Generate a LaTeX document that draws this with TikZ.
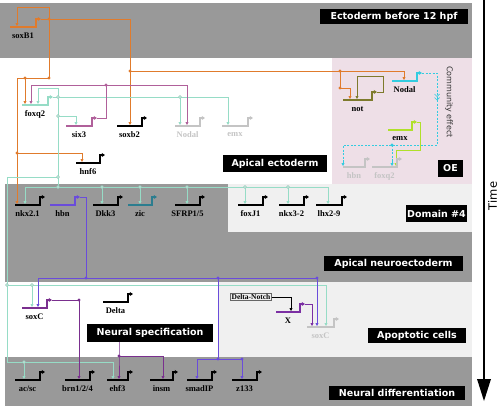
\documentclass[tikz,border=0pt]{standalone}
\usepackage{fontspec}
\setmainfont{Liberation Serif}
\newfontfamily\boxfont{DejaVu Sans}
\usetikzlibrary{arrows.meta}
\definecolor{cOr}{HTML}{E07B2C}
\definecolor{cTl}{HTML}{96DCC6}
\definecolor{cMg}{HTML}{B0609A}
\definecolor{cPu}{HTML}{6A4CDB}
\definecolor{cSx}{HTML}{7A2F8E}
\definecolor{cX}{HTML}{7B2FA3}
\definecolor{cZi}{HTML}{2B7D8F}
\definecolor{cNo}{HTML}{33CCE0}
\definecolor{cEm}{HTML}{B0E02A}
\definecolor{cNt}{HTML}{7D7A2C}
\definecolor{cFd}{HTML}{C4C4C4}
\definecolor{cDk}{HTML}{999999}
\definecolor{cLt}{HTML}{F0F0F0}
\definecolor{cPk}{HTML}{EEDFE7}
\tikzset{
  gbase/.style={line width=1.5pt,-{Triangle[length=3.2pt,width=3.8pt]}},
  glabel/.style={font=\bfseries\fontsize{8.5}{9}\selectfont,inner sep=0pt},
  conn/.style={line width=1pt,-{Triangle[length=3pt,width=3pt]}},
  wire/.style={line width=1pt},
  lbox/.style={fill=black,text=white,font=\boxfont\bfseries\fontsize{9.5}{11}\selectfont,inner sep=1pt},
}
\newcommand\gene[7]{%
  \draw[gbase,draw=#5] (#2,#4) -- (#3,#4) -- (#3,#4-8) -- (#3+5,#4-8) coordinate (#1-out);
  \node[glabel,text=#7] (#1) at ({(#2+#3)/2},#4+9) {#6};
}
\newcommand\jdot[2]{\fill[#1] #2 circle (1.7pt);}
\newcommand\tdot[1]{\draw[cTl!80!gray,fill=cTl!40,line width=0.6pt] #1 circle (1.5pt);}
\begin{document}
\begin{tikzpicture}[x=1pt,y=-1pt]
\useasboundingbox (0,0) rectangle (500,410);
% backgrounds
\fill[cDk] (0,3) rectangle (472,58);
\fill[cPk] (332,58) rectangle (472,184);
\fill[cDk] (5,184) rectangle (472,282);
\fill[cLt] (228,184) rectangle (472,232);
\fill[cLt] (219,282) rectangle (472,357);
\fill[cDk] (5,357) rectangle (472,406);
% time axis
\coordinate (t0) at (484,0);
\coordinate (t1) at (484,381);
\draw[line width=1.2pt] (t0) -- (t1);
\fill (477,379) -- (491,379) -- (484,401) -- cycle;
\node[font=\boxfont\fontsize{11.5}{12}\selectfont,rotate=90] (time) at (492.5,196) {Time};
\node[font=\boxfont\fontsize{8}{9}\selectfont,text=black!80,rotate=-90] (comm) at (449,102) {Community effect};

% ---------- orange (soxB1)
\begin{scope}[cOr]
\draw[wire] (41,19) -- (49,19);
\draw[conn] (49,19) -- (49,7) -- (17,7) -- (17,26);
\draw[conn] (49,19) -- (130,19) -- (130,125);
\draw[conn] (130,71) -- (404,71) -- (404,80);
\draw[conn] (340,71) -- (340,88) -- (350,88) -- (350,99);
\draw[conn] (49,19) -- (49,78) -- (25,78) -- (25,104);
\draw[conn] (25,78) -- (17,78) -- (17,204);
\draw[conn] (17,153) -- (82,153) -- (82,162);
\jdot{cOr}{(49,19)} \jdot{cOr}{(130,71)} \jdot{cOr}{(340,71)} \jdot{cOr}{(340,88)}
\jdot{cOr}{(49,78)} \jdot{cOr}{(25,78)} \jdot{cOr}{(17,153)}
\end{scope}

% ---------- teal (foxq2)
\begin{scope}[cTl]
\draw[conn] (53,97) -- (58,97) -- (58,88) -- (38,88) -- (38,104);
\draw[conn] (58,97) -- (228,97) -- (228,125);
\draw[conn] (180,97) -- (180,125);
\draw[conn] (58,97) -- (58,116) -- (76,116) -- (76,125);
\draw[wire] (58,116) -- (58,187);
\draw[conn] (58,177) -- (7,177) -- (7,362) -- (24,362) -- (24,379);
\draw[conn] (24,362) -- (113,362) -- (113,379);
\draw[conn] (7,285) -- (32,285) -- (32,307);
\draw[conn] (32,285) -- (326,285) -- (326,326);
\draw[conn] (58,187) -- (25,187) -- (25,204);
\draw[conn] (58,187) -- (328,187) -- (328,204);
\foreach \xx in {102,140,187,245,288} {\draw[conn] (\xx,187) -- (\xx,204);}
\end{scope}
\foreach \p in {(58,97),(180,97),(58,116),(58,177),(58,187),(102,187),(140,187),(187,187),(245,187),(288,187),(7,285),(32,285),(24,362)} {\tdot{\p}}

% ---------- magenta (six3)
\begin{scope}[cMg]
\draw[conn] (97,118) -- (106,118) -- (106,85) -- (31,85) -- (31,104);
\draw[conn] (106,85) -- (187,85) -- (187,125);
\jdot{cMg}{(106,85)}
\end{scope}

% ---------- purple (hbn)
\begin{scope}[cPu]
\draw[conn] (80,197) -- (86,197) -- (86,278) -- (38,278) -- (38,307);
\draw[conn] (86,278) -- (317,278) -- (317,326);
\draw[conn] (218,278) -- (218,359) -- (197,359) -- (197,379);
\draw[conn] (218,359) -- (242,359) -- (242,379);
\jdot{cPu}{(86,278)} \jdot{cPu}{(218,278)} \jdot{cPu}{(317,278)} \jdot{cPu}{(218,359)} \jdot{cPu}{(242,359)}
\end{scope}

% ---------- soxC
\begin{scope}[cSx]
\draw[conn] (52,300) -- (79,300) -- (79,379);
\draw[conn] (119,330) -- (119,356) -- (119,379);
\draw[conn] (119,356) -- (163,356) -- (163,379);
\jdot{cSx}{(79,300)} \jdot{cSx}{(119,356)}
\end{scope}

% ---------- X / Delta-Notch
\node[draw=black!60,fill=cLt,font=\bfseries\fontsize{7.5}{8}\selectfont,inner sep=1pt] (dn) at (251,297) {Delta-Notch};
\draw[conn,black] (dn.east) -- (291,297) -- (291,311);
\draw[conn,cX] (305,304) -- (312,304) -- (312,326);

% ---------- OE
\draw[conn,cNt] (377,92) -- (383,92) -- (383,76) -- (357,76) -- (357,99);
\begin{scope}[cNo,line width=1pt]
\draw[dashed,dash pattern=on 2pt off 1.5pt] (422,73) -- (437,73) -- (437,145) -- (343,145) -- (343,162);
\draw[-{Triangle[length=3pt,width=3pt]}] (343,161) -- (343,166);
\draw[dashed,dash pattern=on 2pt off 1.5pt] (392,145) -- (392,162);
\draw[-{Triangle[length=3pt,width=3pt]}] (392,161) -- (392,166);
\draw[line width=0.7pt] (434.5,94) -- (437,96.5) -- (439.5,94) (434.5,97.5) -- (437,100) -- (439.5,97.5);
\fill (392,145) circle (1.6pt);
\end{scope}
\draw[conn,cEm] (417,122) -- (420,122) -- (420,150) -- (396,150) -- (396,166);

% ---------- genes
\gene{soxBone}{10}{36}{27}{cOr}{soxB1}{black}
\gene{foxqtwo}{22}{48}{105}{cTl}{foxq2}{black}
\gene{six}{66}{92}{126}{cMg}{six3}{black}
\gene{soxbtwo}{117}{142}{126}{black}{soxb2}{black}
\gene{nodalf}{175}{200}{126}{cFd}{Nodal}{cFd}
\gene{emxf}{222}{248}{126}{cFd}{emx}{cFd}
\gene{hnf}{76}{100}{163}{black}{hnf6}{black}
\gene{nkx}{15}{40}{205}{black}{nkx2.1}{black}
\gene{hbn}{50}{75}{205}{cPu}{hbn}{black}
\gene{dkk}{93}{118}{205}{black}{Dkk3}{black}
\gene{zic}{128}{152}{205}{cZi}{zic}{black}
\gene{sfrp}{175}{200}{205}{black}{SFRP1/5}{black}
\gene{foxj}{238}{263}{205}{black}{foxJ1}{black}
\gene{nkxtt}{279}{304}{205}{black}{nkx3-2}{black}
\gene{lhx}{316}{342}{205}{black}{lhx2-9}{black}
\gene{not}{343}{372}{100}{cNt}{not}{black}
\gene{nodal}{392}{417}{81}{cNo}{Nodal}{black}
\gene{emx}{388}{412}{130}{cEm}{emx}{black}
\gene{hbnf}{343}{365}{167}{cFd}{hbn}{cFd}
\gene{foxqf}{372}{397}{167}{cFd}{foxq2}{cFd}
\gene{soxc}{22}{47}{308}{cSx}{soxC}{black}
\gene{delta}{103}{128}{302}{black}{Delta}{black}
\gene{xg}{276}{300}{312}{cX}{X}{black}
\gene{soxcf}{307}{334}{327}{cFd}{soxC}{cFd}
\gene{acsc}{15}{40}{380}{black}{ac/sc}{black}
\gene{brn}{65}{90}{380}{black}{brn1/2/4}{black}
\gene{ehf}{107}{128}{380}{black}{ehf3}{black}
\gene{insm}{150}{173}{380}{black}{insm}{black}
\gene{smad}{187}{212}{380}{black}{smadIP}{black}
\gene{zi}{232}{257}{380}{black}{z133}{black}

% ---------- label boxes
\node[lbox,minimum width=148,minimum height=15] (l1) at (394,16.5) {Ectoderm before 12 hpf};
\node[lbox,minimum width=104,minimum height=17] (l2) at (275,163.5) {Apical ectoderm};
\node[lbox,minimum width=25,minimum height=17] (l3) at (450.5,168.5) {OE};
\node[lbox,minimum width=58,minimum height=17] (l4) at (436.5,213.5) {Domain \#4};
\node[lbox,minimum width=139,minimum height=15] (l5) at (393.5,263.5) {Apical neuroectoderm};
\node[lbox,minimum width=126,minimum height=18] (l6) at (150,333) {Neural specification};
\node[lbox,minimum width=98,minimum height=15] (l7) at (417,335.5) {Apoptotic cells};
\node[lbox,minimum width=136,minimum height=14] (l8) at (397,393) {Neural differentiation};
\end{tikzpicture}
\end{document}
